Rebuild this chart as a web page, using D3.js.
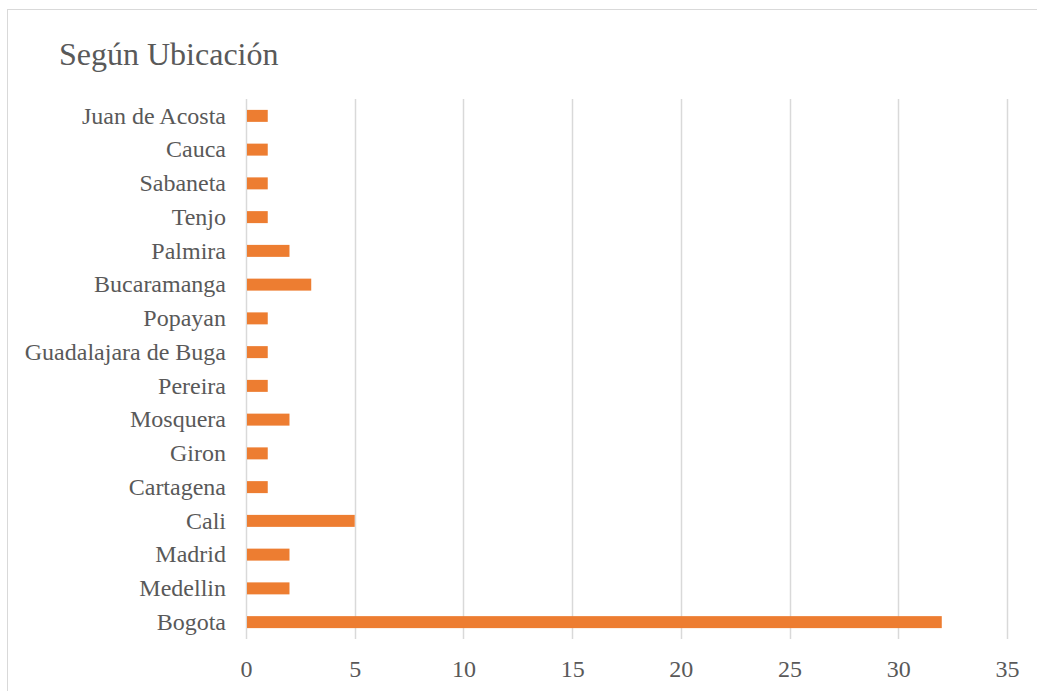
<!DOCTYPE html>
<html>
<head>
<meta charset="utf-8">
<script src="https://cdn.jsdelivr.net/npm/d3@7/dist/d3.min.js"></script>
<style>
  html, body { margin: 0; padding: 0; background: #fff; }
  svg { display: block; }
  text { font-family: "Liberation Serif", "Times New Roman", serif; fill: #595959; }
</style>
</head>
<body>
<svg id="chart" width="1037" height="691"></svg>
<script>
// Cities, listed top to bottom
const categories = [
  "Juan de Acosta", "Cauca", "Sabaneta", "Tenjo", "Palmira", "Bucaramanga",
  "Popayan", "Guadalajara de Buga", "Pereira", "Mosquera", "Giron",
  "Cartagena", "Cali", "Madrid", "Medellin", "Bogota"
];
const counts = [1, 1, 1, 1, 2, 3, 1, 1, 1, 2, 1, 1, 5, 2, 2, 32];
const xTicks = [0, 5, 10, 15, 20, 25, 30, 35];
const title = "Según Ubicación";

const svg = d3.select("#chart");
const W = 1037, H = 691;
const margin = { top: 99, right: 30, bottom: 52, left: 246 };
const font = '"Liberation Serif", "Times New Roman", serif';

// Chart frame
svg.append("rect")
  .attr("x", 7.5).attr("y", 9.5)
  .attr("width", W + 10).attr("height", H + 10)
  .attr("fill", "none").attr("stroke", "#d9d9d9").attr("stroke-width", 1);

const x = d3.scaleLinear().domain([0, 35]).range([margin.left, 1007]);
const y = d3.scaleBand().domain(categories)
  .range([margin.top, H - margin.bottom])
  .paddingInner(0.645).paddingOuter(0.3225);

// Vertical gridlines
svg.append("g")
  .selectAll("line")
  .data(xTicks)
  .join("line")
  .attr("x1", d => Math.round(x(d)) + 0.5)
  .attr("x2", d => Math.round(x(d)) + 0.5)
  .attr("y1", margin.top)
  .attr("y2", H - margin.bottom)
  .attr("stroke", "#d9d9d9")
  .attr("stroke-width", 1.5);

// Bars
svg.append("g")
  .selectAll("rect")
  .data(categories)
  .join("rect")
  .attr("x", x(0) + 1)
  .attr("y", d => y(d))
  .attr("width", (d, i) => x(counts[i]) - x(0) - 1)
  .attr("height", y.bandwidth())
  .attr("fill", "#ED7D31");

// Category labels
const yAxis = d3.axisLeft(y).tickSize(0).tickPadding(20);
const gy = svg.append("g")
  .attr("transform", `translate(${margin.left},0)`)
  .call(yAxis);
gy.select(".domain").remove();
gy.selectAll("text")
  .style("font-family", font)
  .style("font-size", "24px")
  .attr("fill", "#595959");

// Value axis labels
const xAxis = d3.axisBottom(x).tickValues(xTicks).tickSize(0).tickPadding(21);
const gx = svg.append("g")
  .attr("transform", `translate(0,${H - margin.bottom})`)
  .call(xAxis);
gx.select(".domain").remove();
gx.selectAll("text")
  .style("font-family", font)
  .style("font-size", "24px")
  .attr("fill", "#595959");

// Title
svg.append("text")
  .attr("x", 59).attr("y", 65)
  .style("font-family", font)
  .style("font-size", "32px")
  .text(title);
</script>
</body>
</html>
